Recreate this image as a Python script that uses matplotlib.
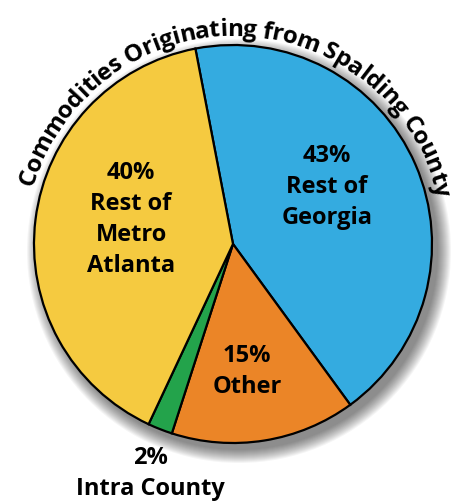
import numpy as np
import matplotlib.pyplot as plt
from matplotlib.patches import Circle
from matplotlib.font_manager import FontProperties
from matplotlib.textpath import text_to_path

title = "Commodities Originating from Spalding County"
labels = ["43%\nRest of\nGeorgia", "15%\nOther", "2%\nIntra County", "40%\nRest of\nMetro\nAtlanta"]
shares = [43, 15, 2, 40]
colors = ["#34abe0", "#eb8527", "#23a34b", "#f5ca40"]

FONT = "Open Sans"
W, H = 461, 504
cx, cy, R = 233, 260, 199

fig = plt.figure(figsize=(W / 100, H / 100), dpi=100)
ax = fig.add_axes([0, 0, 1, 1])

# soft shadow under the pie
for k in range(14):
    ax.add_patch(Circle((cx + 6, cy - 7), R + k * 1.0, color="black",
                        alpha=0.04, lw=0, zorder=0))

wedges, _ = ax.pie(shares, colors=colors, startangle=100.9, counterclock=False,
                   center=(cx, cy), radius=R,
                   wedgeprops=dict(edgecolor="black", linewidth=1.6))
for w in wedges:
    w.set_zorder(2)
ax.set_xlim(0, W)
ax.set_ylim(0, H)
ax.set_aspect("equal")
ax.axis("off")

# label blocks: x centre and y of first line (pixels from top)
label_pos = [(327, 156), (247, 356), (150, 458), (131, 173)]
step = 31
for lab, (x, y0) in zip(labels, label_pos):
    for j, line in enumerate(lab.split("\n")):
        ax.text(x, H - (y0 + j * step), line, fontfamily=FONT, fontweight="bold",
                fontsize=17, ha="center", va="center", zorder=5)

# curved title along the top of the pie
prop = FontProperties(family=FONT, weight="bold", size=17.5)
px = 100 / 72


def width(s):
    return text_to_path.get_text_width_height_descent(s, prop, ismath=False)[0] * px


total = width(title)
r_text = R + 9
a_start, a_end = 164.0, 13.0
scale = np.radians(a_start - a_end) * r_text / total
for i, ch in enumerate(title):
    mid = (width(title[:i]) + width(title[:i + 1])) / 2 if i else width(ch) / 2
    ang = np.radians(a_start) - mid * scale / r_text
    x = cx + r_text * np.cos(ang)
    y = cy + r_text * np.sin(ang)
    ax.text(x, y, ch, fontproperties=prop, ha="center", va="baseline",
            rotation=np.degrees(ang) - 90, rotation_mode="anchor", zorder=5)

fig.savefig("out.png", dpi=100)
